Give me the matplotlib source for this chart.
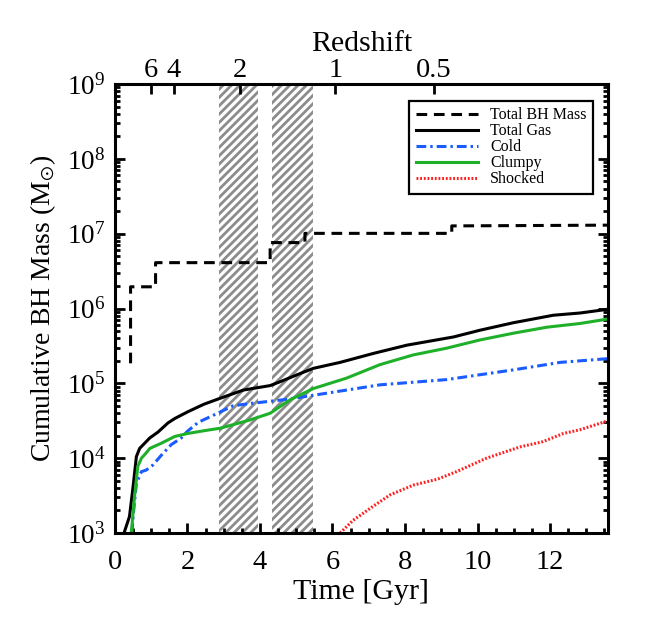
import matplotlib

matplotlib.use("Agg")
import matplotlib.pyplot as plt  # noqa: E402
import numpy as np  # noqa: E402
from matplotlib.ticker import MultipleLocator, LogLocator, NullFormatter  # noqa: E402

plt.rcParams["font.family"] = ["Liberation Serif", "DejaVu Serif"]
plt.rcParams["mathtext.fontset"] = "stix"
plt.rcParams["hatch.linewidth"] = 2.0

# --- data (time in Gyr, mass in Msun) ---
t_bh = [0.43, 0.43, 1.12, 1.12, 4.28, 4.28, 5.24, 5.24, 9.29, 9.29, 13.6]
m_bh = [1.85e5, 1.95e6, 1.95e6, 4.1e6, 4.1e6, 7.6e6, 7.6e6, 1.01e7, 1.01e7, 1.27e7, 1.3e7]

t_gas = [0.25, 0.40, 0.50, 0.59, 0.68, 0.82, 0.96, 1.19, 1.46, 1.65, 2.01, 2.45, 2.9,
         3.54, 4.28, 4.6, 5.0, 5.47, 6.21, 7.13, 8.05, 9.34, 10.07, 10.99, 12.09, 12.83, 13.6]
logm_gas = [3.0, 3.22, 3.62, 4.02, 4.13, 4.20, 4.27, 4.35, 4.47, 4.53, 4.62, 4.72, 4.80,
            4.91, 4.97, 5.03, 5.11, 5.20, 5.28, 5.40, 5.51, 5.62, 5.71, 5.81, 5.91, 5.94, 5.99]

t_cold = [0.47, 0.50, 0.59, 0.73, 0.86, 1.05, 1.28, 1.55, 1.83, 2.0, 2.3, 2.7, 3.26, 3.72,
          4.64, 5.47, 7.31, 9.15, 10.99, 12.28, 13.6]
logm_cold = [3.0, 3.22, 3.66, 3.82, 3.84, 3.91, 4.04, 4.18, 4.27, 4.36, 4.48, 4.57, 4.70, 4.73,
             4.78, 4.84, 4.98, 5.05, 5.18, 5.28, 5.33]

t_clumpy = [0.45, 0.54, 0.63, 0.73, 0.86, 0.96, 1.28, 1.65, 2.01, 2.5, 2.9, 3.72, 4.28,
            4.83, 5.47, 6.39, 7.31, 8.23, 9.15, 10.07, 10.99, 11.91, 12.83, 13.6]
logm_clumpy = [3.0, 3.49, 3.89, 4.0, 4.07, 4.13, 4.20, 4.29, 4.33, 4.37, 4.40, 4.51, 4.60,
               4.78, 4.93, 5.07, 5.25, 5.38, 5.47, 5.58, 5.67, 5.75, 5.80, 5.86]

t_shock = [6.21, 6.57, 7.1, 7.59, 8.23, 8.9, 9.42, 10.25, 11.17, 11.8, 12.37, 12.83, 13.6]
logm_shock = [3.0, 3.17, 3.35, 3.51, 3.64, 3.72, 3.82, 4.00, 4.15, 4.22, 4.33, 4.38, 4.50]

bands = [(2.86, 3.95), (4.32, 5.46)]
z_ticks = [6, 4, 2, 1, 0.5]
z_labels = ["6", "4", "2", "1", "0.5"]


def age_gyr(z, h0=73.0, om=0.24):
    """Cosmic time at redshift z, flat LCDM."""
    ol = 1.0 - om
    th = 977.8 / h0
    return 2.0 / (3.0 * np.sqrt(ol)) * th * np.arcsinh(np.sqrt(ol / om) * (1.0 + np.asarray(z)) ** -1.5)


fig = plt.figure(figsize=(6.54, 6.28), dpi=100)
ax = fig.add_axes([0.1758, 0.1513, 0.7539, 0.7149])

for lo, hi in bands:
    ax.axvspan(lo, hi, facecolor="none", edgecolor="#8c8c8c", hatch="////", linewidth=0, zorder=0)

lw = 2.2
ax.plot(t_bh, m_bh, color="black", lw=lw, ls=(0, (3.5, 2.2)), label="Total BH Mass")
ax.plot(t_gas, 10 ** np.array(logm_gas), color="black", lw=lw, label="Total Gas")
ax.plot(t_cold, 10 ** np.array(logm_cold), color="#1a5cff", lw=lw, ls=(0, (3.2, 1.3, 0.8, 1.3)),
        label="Cold")
ax.plot(t_clumpy, 10 ** np.array(logm_clumpy), color="#1fb02a", lw=lw, label="Clumpy")
ax.plot(t_shock, 10 ** np.array(logm_shock), color="#ff2020", lw=lw, ls=(0, (0.6, 0.6)),
        label="Shocked")

ax.set_yscale("log")
ax.set_xlim(0, 13.6)
ax.set_ylim(1e3, 1e9)
ax.xaxis.set_major_locator(MultipleLocator(2))
ax.xaxis.set_minor_locator(MultipleLocator(0.5))
ax.yaxis.set_major_locator(LogLocator(base=10, numticks=20))
ax.yaxis.set_minor_locator(LogLocator(base=10, subs=np.arange(2, 10), numticks=20))
ax.yaxis.set_minor_formatter(NullFormatter())
ax.tick_params(which="both", direction="in", right=True, top=False, width=2.0)
ax.tick_params(which="major", length=7)
ax.tick_params(which="minor", length=3.5)
ax.tick_params(axis="x", labelsize=20.5, pad=12)
ax.tick_params(axis="y", labelsize=19.5, pad=7)
for s in ax.spines.values():
    s.set_linewidth(2.2)

ax.set_xlabel("Time [Gyr]", fontsize=21.5, labelpad=3)
ax.set_ylabel(r"Cumulative BH Mass (M$_{\odot}$)", fontsize=20, labelpad=6)

top = ax.twiny()
top.set_xlim(ax.get_xlim())
top.set_xticks(age_gyr(z_ticks))
top.set_xticklabels(z_labels)
top.tick_params(direction="in", length=7, width=2.0, labelsize=20.5, pad=1)
top.set_xlabel("Redshift", fontsize=21.5, labelpad=5)

leg = ax.legend(loc="upper right", bbox_to_anchor=(0.9696, 0.962), fontsize=11.5, handlelength=3.9,
                handletextpad=0.75, labelspacing=0.0, borderpad=0.4, fancybox=False,
                framealpha=1, edgecolor="black", borderaxespad=0)
leg.get_frame().set_linewidth(1.6)

fig.savefig("out.png", dpi=100)
